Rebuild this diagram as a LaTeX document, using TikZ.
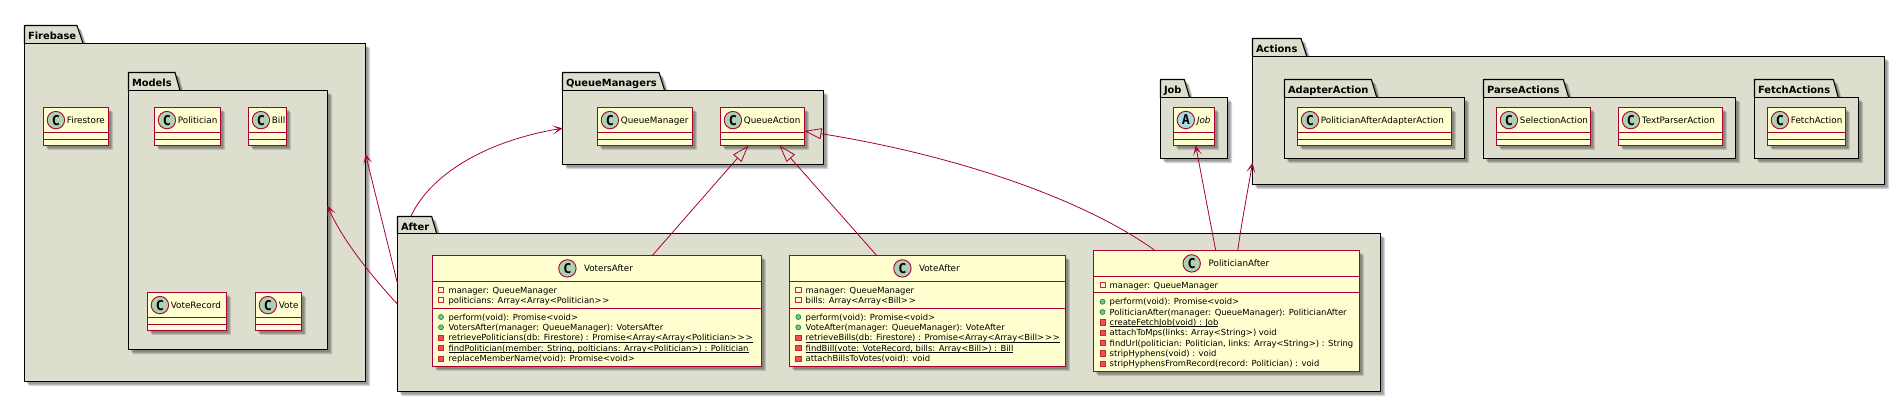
\documentclass[tikz,border=0pt]{standalone}
\usepackage{fontspec}
\setmainfont{DejaVu Sans}
\newfontfamily\letterfont{DejaVu Sans Mono}[BoldFont={DejaVu Sans Mono Bold}]
\newfontfamily\jobfont{DejaVu Sans Oblique}
\usetikzlibrary{arrows.meta}
\definecolor{crim}{HTML}{A80036}
\definecolor{pkgbg}{HTML}{DEDECF}
\definecolor{clsbg}{HTML}{FEFECE}
\definecolor{cbg}{HTML}{ADD1B2}
\definecolor{abg}{HTML}{A9DCDF}
\definecolor{privl}{HTML}{C82930}
\definecolor{privf}{HTML}{F24D5C}
\definecolor{publ}{HTML}{038048}
\definecolor{pubf}{HTML}{84BE84}
\newcounter{txtno}
\newcommand{\gtgt}{>\kern.9pt>}
\newcommand{\gtgtgt}{>\kern.9pt>\kern.9pt>}
\tikzset{
  pkgbody/.style={rectangle,draw=black,fill=pkgbg,line width=1.1pt,inner sep=0pt,outer sep=0pt},
  clsbody/.style={rectangle,draw=crim,fill=clsbg,line width=1pt,inner sep=0pt,outer sep=0pt},
  pkgtitle/.style={anchor=base west,inner sep=0pt,outer sep=0pt,font=\bfseries\fontsize{9.9}{11}\selectfont},
  clsname/.style={anchor=base west,inner sep=0pt,outer sep=0pt,font=\fontsize{8.8}{10}\selectfont},
  memtext/.style={anchor=base west,inner sep=0pt,outer sep=0pt,font=\fontsize{8.4}{10}\selectfont},
  letterc/.style={inner sep=0pt,outer sep=0pt,font=\letterfont\bfseries\fontsize{13.5}{13.5}\selectfont},
  rel/.style={draw=crim,line width=.8pt,-{Stealth[length=10pt,width=9pt,inset=6pt]}},
  ext/.style={draw=crim,line width=.8pt,-{Triangle[open,length=17pt,width=11pt]}},
  divline/.style={draw=crim,line width=1pt},
  pkgline/.style={draw=black,line width=1.1pt,fill=pkgbg,line join=round},
  softshadow/.style={fill=black,opacity=.15}
}
% shadow: three shifted fills of a path given as argument 1
\newcommand{\softshadowpath}[1]{%
  \fill[softshadow,shift={(2.5,2.5)}] #1;
  \fill[softshadow,shift={(3.5,3.5)}] #1;
  \fill[softshadow,shift={(4.5,4.5)}] #1;}
% name, left, tabtop, tabright, slant, bodytop, right, bottom, title
\newcommand{\pkgbox}[9]{%
  \softshadowpath{(#2,#6) -- (#2,#3) -- (#4,#3) -- (#5,#6) -- (#7,#6) -- (#7,#8) -- (#2,#8) -- cycle}
  \draw[pkgline] (#2,#6) -- (#2,#3) -- (#4,#3) -- (#5,#6);
  \node[pkgbody,minimum width={(#7-#2)*1pt},minimum height={(#8-#6)*1pt}] (#1) at ({(#2+#7)/2},{(#6+#8)/2}) {};
  \node[pkgtitle] (#1-title) at ({#2+3.5},{#3+13.6}) {#9};}
% name, x1, y1, x2, y2, divider1, divider2
\newcommand{\clsbox}[7]{%
  \softshadowpath{(#2,#3) rectangle (#4,#5)}
  \node[clsbody,minimum width={(#4-#2)*1pt},minimum height={(#5-#3)*1pt}] (#1) at ({(#2+#4)/2},{(#3+#5)/2}) {};
  \draw[divline] (#2,#6) -- (#4,#6);
  \draw[divline] (#2,#7) -- (#4,#7);}
% name, cx, cy, colour, letter
\newcommand{\badge}[5]{%
  \node[circle,draw=crim,fill=#4,line width=.9pt,minimum size=17.4pt,inner sep=0pt,outer sep=0pt] (#1-b) at (#2,#3) {};
  \node[letterc] (#1-l) at (#2,#3) {#5};}
% name, x1, y1, x2, label  (small class with empty compartments)
\newcommand{\smallcls}[5]{%
  \clsbox{#1}{#2}{#3}{#4}{#3+38}{#3+25}{#3+32}
  \badge{#1}{#2+12.4}{#3+12.6}{cbg}{C}
  \node[clsname] (#1-name) at ({#2+23.4},{#3+16}) {#5};}
\newcommand{\fieldicon}[2]{\draw[privl,line width=.8pt,fill=white,fill opacity=.3] ({#1-2.6},{#2-2.6}) rectangle ({#1+2.6},{#2+2.6});}
\newcommand{\privicon}[2]{\draw[privl,line width=.6pt,fill=privf] ({#1-2.6},{#2-2.6}) rectangle ({#1+2.6},{#2+2.6});}
\newcommand{\pubicon}[2]{\draw[publ,line width=.6pt,fill=pubf] (#1,#2) circle (2.5pt);}
% kind-of-icon macro, iconx, textx, centre y, text
\newcommand{\mem}[5]{%
  \stepcounter{txtno}%
  #1{#2}{#4}
  \node[memtext] (t\thetxtno) at (#3,{#4+3}) {#5};}
\newcommand{\umem}[5]{%
  \stepcounter{txtno}%
  #1{#2}{#4}
  \node[memtext] (t\thetxtno) at (#3,{#4+3}) {#5};
  \draw[black,line width=.6pt] ([yshift=-1.3pt]t\thetxtno.base west) -- ([yshift=-1.3pt]t\thetxtno.base east);}
\begin{document}
\begin{tikzpicture}[x=1pt,y=-1pt]
\useasboundingbox (0,0) rectangle (1900,400);
\fill[white] (0,0) rectangle (1900,400);
% Firebase
\pkgbox{firebase}{24.5}{25.5}{77}{83}{43.5}{365.5}{381.5}{Firebase}
\pkgbox{models}{128.5}{72.5}{175}{180}{90.5}{327.5}{349.5}{Models}
\smallcls{firestore}{43.5}{107.5}{108.5}{Firestore}
\smallcls{politician}{154.5}{107.5}{220.5}{Politician}
\smallcls{bill}{248.5}{107.5}{286.5}{Bill}
\smallcls{voterecord}{147.5}{292.5}{226.5}{VoteRecord}
\smallcls{vote}{255.5}{292.5}{301.5}{Vote}
% QueueManagers
\pkgbox{queuemanagers}{562.5}{72.5}{659}{664.7}{90.5}{823.5}{164.5}{QueueManagers}
\smallcls{queuemanager}{597.5}{107.5}{692.5}{QueueManager}
\smallcls{queueaction}{720.5}{107.5}{804.5}{QueueAction}
% Job
\pkgbox{jobpkg}{1160.5}{79.5}{1184.3}{1189.6}{97.5}{1227.5}{158.5}{Job}
\clsbox{jobcls}{1173.5}{107.5}{1214.5}{145.5}{132.5}{139.5}
\badge{jobcls}{1185.8}{120}{abg}{A}
\node[clsname,font=\jobfont\fontsize{8.8}{10}\selectfont] (jobcls-name) at (1197,123.4) {Job};
% Actions
\pkgbox{actions}{1252.5}{38.5}{1301}{1306.8}{56.5}{1884.5}{184.5}{Actions}
\pkgbox{adapteraction}{1284.5}{79.5}{1371.4}{1376.8}{97.5}{1464.5}{158.5}{AdapterAction}
\pkgbox{parseactions}{1483.5}{79.5}{1563.3}{1568.7}{97.5}{1735.5}{158.5}{ParseActions}
\pkgbox{fetchactions}{1754.5}{79.5}{1833.3}{1838.3}{97.5}{1858.5}{158.5}{FetchActions}
\smallcls{paaa}{1297.5}{107.5}{1451.5}{PoliticianAfterAdapterAction}
\smallcls{selectionaction}{1496.5}{107.5}{1590.5}{SelectionAction}
\smallcls{textparseraction}{1618.5}{107.5}{1722.5}{TextParserAction}
\smallcls{fetchaction}{1767.5}{107.5}{1845.5}{FetchAction}
% After
\pkgbox{after}{397.5}{216.5}{431.7}{436.7}{233.5}{1380.5}{391.5}{After}
% VotersAfter
\clsbox{votersafter}{432.5}{255.5}{761.5}{366.5}{281.5}{308.5}
\badge{votersafter}{567.4}{268.4}{cbg}{C}
\node[clsname] (votersafter-name) at (584,271.8) {VotersAfter};
\mem{\fieldicon}{441}{448.6}{290}{manager: QueueManager}
\mem{\fieldicon}{441}{448.6}{300.2}{politicians: Array<Array<Politician\gtgt}
\mem{\pubicon}{441}{448.6}{317}{perform(void): Promise<void>}
\mem{\pubicon}{441}{448.6}{327.3}{VotersAfter(manager: QueueManager): VotersAfter}
\umem{\privicon}{441}{448.6}{337.7}{retrievePoliticians(db: Firestore) : Promise<Array<Array<Politician\gtgtgt}
\umem{\privicon}{441}{448.6}{348}{findPolitician(member: String, polticians: Array<Politician>) : Politician}
\mem{\privicon}{441}{448.6}{358.6}{replaceMemberName(void): Promise<void>}
% VoteAfter
\clsbox{voteafter}{789.5}{255.5}{1065.5}{366.5}{281.5}{308.5}
\badge{voteafter}{902.4}{268.4}{cbg}{C}
\node[clsname] (voteafter-name) at (919,271.8) {VoteAfter};
\mem{\fieldicon}{798.3}{805.7}{290}{manager: QueueManager}
\mem{\fieldicon}{798.3}{805.7}{300.2}{bills: Array<Array<Bill\gtgt}
\mem{\pubicon}{798.3}{805.7}{317}{perform(void): Promise<void>}
\mem{\pubicon}{798.3}{805.7}{327.3}{VoteAfter(manager: QueueManager): VoteAfter}
\umem{\privicon}{798.3}{805.7}{337.7}{retrieveBills(db: Firestore) : Promise<Array<Array<Bill\gtgtgt}
\umem{\privicon}{798.3}{805.7}{348}{findBill(vote: VoteRecord, bills: Array<Bill>) : Bill}
\mem{\privicon}{798.3}{805.7}{358.6}{attachBillsToVotes(void): void}
% PoliticianAfter
\clsbox{politicianafter}{1093.5}{250.5}{1359.5}{371.5}{276.5}{292.5}
\badge{politicianafter}{1191.7}{263.4}{cbg}{C}
\node[clsname] (politicianafter-name) at (1208.7,266.8) {PoliticianAfter};
\mem{\fieldicon}{1102.5}{1109.7}{285}{manager: QueueManager}
\mem{\pubicon}{1102.5}{1109.7}{301.7}{perform(void): Promise<void>}
\mem{\pubicon}{1102.5}{1109.7}{312}{PoliticianAfter(manager: QueueManager): PoliticianAfter}
\umem{\privicon}{1102.5}{1109.7}{322.3}{createFetchJob(void) : Job}
\mem{\privicon}{1102.5}{1109.7}{332.7}{attachToMps(links: Array<String>) void}
\mem{\privicon}{1102.5}{1109.7}{343}{findUrl(politician: Politician, links: Array<String>) : String}
\mem{\privicon}{1102.5}{1109.7}{353.3}{stripHyphens(void) : void}
\mem{\privicon}{1102.5}{1109.7}{363.7}{stripHyphensFromRecord(record: Politician) : void}
% Connectors
\draw[rel] ([yshift=-50pt]after.north west) -- ([yshift=-110.5pt]firebase.north east);
\draw[rel] ([yshift=-70.6pt]after.north west) .. controls (376,281) and (343,242) .. ([yshift=-115.2pt]models.north east);
\draw[rel] ([xshift=13.5pt,yshift=17.4pt]after.north west) .. controls (430,175) and (485,141) .. ([yshift=-37.8pt]queuemanagers.north west);
\draw[ext] ([xshift=-109.2pt]votersafter.north east) -- ([xshift=28pt]queueaction.south west);
\draw[ext] ([xshift=87.2pt]voteafter.north west) -- ([xshift=-25pt]queueaction.south east);
\draw[ext] ([xshift=61.5pt]politicianafter.north west) .. controls (1085,200) and (960,156) .. ([yshift=-23.5pt]queueaction.north east);
\draw[rel] ([xshift=122.2pt]politicianafter.north west) -- ([xshift=-18.8pt]jobcls.south east);
\draw[rel] ([xshift=144.2pt]politicianafter.north west) .. controls (1242,220) and (1247,195) .. ([yshift=-106.2pt]actions.north west);
\end{tikzpicture}
\end{document}
